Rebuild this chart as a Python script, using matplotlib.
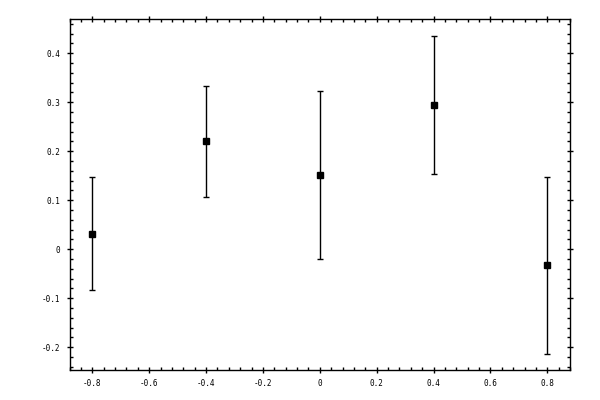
import matplotlib
matplotlib.use("Agg")
import matplotlib.pyplot as plt
from matplotlib.ticker import MultipleLocator, FuncFormatter

# values
x_vals = [-0.8, -0.4, 0.0, 0.4, 0.8]
y_vals = [0.032, 0.220, 0.151, 0.294, -0.033]
y_err = [0.116, 0.114, 0.171, 0.141, 0.180]

fig = plt.figure(figsize=(6, 4), dpi=100)
ax = fig.add_axes([0.116, 0.076, 0.834, 0.876])

ax.errorbar(x_vals, y_vals, yerr=y_err, fmt='s', color='black',
            markersize=5, ecolor='black', elinewidth=1, capsize=2.2,
            capthick=1)

ax.set_xlim(-0.88, 0.88)
ax.set_ylim(-0.2457, 0.4695)

ax.xaxis.set_major_locator(MultipleLocator(0.2))
ax.xaxis.set_minor_locator(MultipleLocator(0.04))
ax.yaxis.set_major_locator(MultipleLocator(0.1))
ax.yaxis.set_minor_locator(MultipleLocator(0.02))

fmt = FuncFormatter(lambda v, pos: ('%g' % round(v, 6)) if abs(v) > 1e-9 else '0')
ax.xaxis.set_major_formatter(fmt)
ax.yaxis.set_major_formatter(fmt)

ax.tick_params(which='major', direction='inout', length=5, width=1,
               top=True, right=True, pad=4, labelsize=5.5,
               labelfontfamily='DejaVu Sans Mono')
ax.tick_params(which='minor', direction='in', length=2.2, width=1,
               top=True, right=True)

for s in ax.spines.values():
    s.set_linewidth(1)

fig.savefig('out.png', dpi=100)
